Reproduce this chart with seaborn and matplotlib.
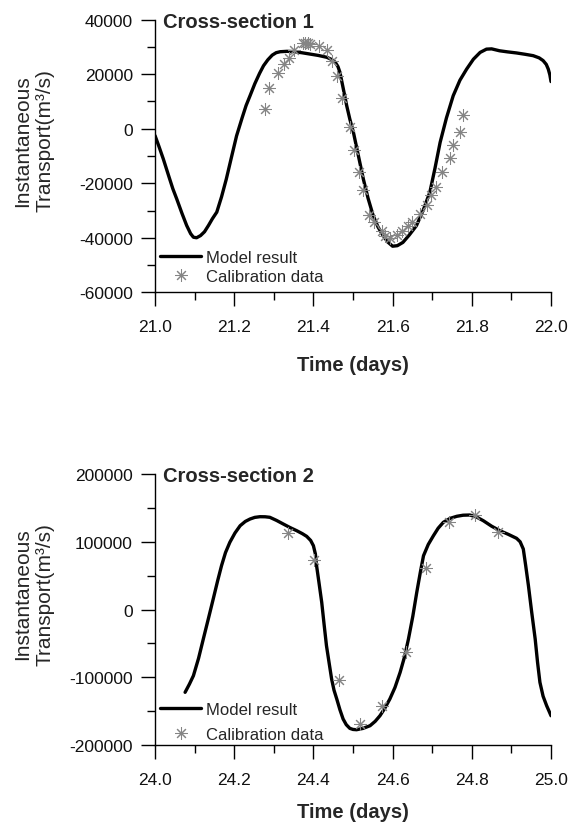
import numpy as np
import pandas as pd
import matplotlib
matplotlib.use("Agg")
import matplotlib.pyplot as plt
from matplotlib.ticker import MultipleLocator, FormatStrFormatter
import seaborn as sns

sns.set_style("ticks")
plt.rcParams['font.family'] = ['Liberation Sans', 'DejaVu Sans']
plt.rcParams['axes.unicode_minus'] = False

# ---- Cross-section 1 data ----
model1_t = [21.000, 21.010, 21.021, 21.035, 21.045, 21.055, 21.068, 21.080, 21.090, 21.097,
            21.105, 21.115, 21.125, 21.135, 21.145, 21.156, 21.168, 21.180, 21.193, 21.206,
            21.220, 21.230, 21.240, 21.252, 21.264, 21.274, 21.285, 21.296, 21.306, 21.316,
            21.333, 21.350, 21.370, 21.391, 21.412, 21.434, 21.446, 21.455, 21.462, 21.467,
            21.475, 21.484, 21.492, 21.501, 21.513, 21.526, 21.538, 21.551, 21.563, 21.576,
            21.588, 21.600, 21.612, 21.626, 21.642, 21.660, 21.677, 21.694, 21.707, 21.720,
            21.736, 21.753, 21.770, 21.787, 21.804, 21.821, 21.837, 21.850, 21.870, 21.890,
            21.913, 21.935, 21.955, 21.970, 21.980, 21.988, 21.993, 21.997, 22.000]
model1_v = [-2500, -6500, -11100, -17500, -22000, -25800, -31000, -35500, -38500, -39800,
            -40000, -39200, -37800, -35500, -33000, -30600, -25000, -18500, -10500, -2600,
            4000, 8500, 12100, 16500, 20300, 23100, 25300, 27000, 27900, 28250,
            28400, 28300, 27900, 27400, 26900, 26200, 25400, 24400, 22800, 20700,
            15000, 8500, 3500, -1300, -9500, -18400, -25500, -31900, -36000, -39200,
            -41600, -43100, -42900, -41700, -39000, -35600, -30000, -23300, -14500, -5000,
            4000, 12100, 17800, 21900, 25500, 28000, 29200, 29300, 28600, 28200,
            27800, 27300, 26800, 26000, 25000, 23600, 21900, 19800, 17300]
calib1_t = [21.278, 21.289, 21.310, 21.326, 21.339, 21.351, 21.373, 21.380, 21.386, 21.392,
            21.415, 21.434, 21.446, 21.460, 21.471, 21.492, 21.503, 21.514, 21.525, 21.541,
            21.553, 21.574, 21.580, 21.594, 21.610, 21.624, 21.640, 21.650, 21.668, 21.686,
            21.698, 21.710, 21.725, 21.745, 21.753, 21.770, 21.778]
calib1_v = [7200, 14800, 20400, 23700, 25800, 29000, 31400, 31400, 31400, 31000,
            30400, 29000, 25000, 19400, 11200, 500, -7700, -16000, -22400, -31600,
            -34300, -37600, -39200, -40200, -39000, -37600, -35600, -34100, -31300, -28000,
            -24300, -21500, -16000, -10800, -6000, -1300, 5000]

# ---- Cross-section 2 data ----
model2_t = [24.076, 24.087, 24.097, 24.110, 24.122, 24.135, 24.147, 24.158, 24.168, 24.178,
            24.189, 24.202, 24.215, 24.228, 24.240, 24.252, 24.265, 24.278, 24.290, 24.307,
            24.324, 24.341, 24.358, 24.372, 24.383, 24.393, 24.400, 24.405, 24.408, 24.414,
            24.421, 24.427, 24.433, 24.440, 24.446, 24.452, 24.459, 24.467, 24.475, 24.483,
            24.492, 24.500, 24.509, 24.525, 24.543, 24.556, 24.568, 24.580, 24.593, 24.606,
            24.619, 24.630, 24.640, 24.651, 24.661, 24.670, 24.678, 24.690, 24.703, 24.715,
            24.728, 24.745, 24.762, 24.778, 24.795, 24.812, 24.829, 24.850, 24.871, 24.892,
            24.913, 24.922, 24.930, 24.936, 24.943, 24.951, 24.960, 24.966, 24.972, 24.980,
            24.989, 24.995, 25.000]
model2_v = [-122200, -110000, -97700, -72000, -43500, -13000, 15500, 42000, 64700, 84000,
            99200, 113000, 123700, 130000, 133600, 136000, 137000, 136900, 136100, 131500,
            126200, 121000, 116300, 112000, 108000, 102000, 94200, 82000, 64700, 40000,
            10600, -22000, -53400, -80000, -102600, -119000, -132100, -148000, -161600, -170000,
            -175400, -177000, -177400, -175500, -171500, -165000, -156800, -146000, -132100, -115000,
            -92700, -70000, -43500, -10000, 25400, 55000, 79400, 96000, 108900, 120000,
            128700, 134500, 137600, 139200, 139500, 136500, 131100, 123000, 116300, 111000,
            105100, 100000, 89300, 65000, 35100, -3000, -43500, -78000, -107500, -128000,
            -142000, -150000, -156800]
calib2_t = [24.337, 24.401, 24.464, 24.517, 24.572, 24.635, 24.684, 24.742, 24.808, 24.867]
calib2_v = [112900, 73500, -103600, -169000, -142000, -63200, 60800, 129600, 139500, 113900]

x_ranges = [(21.0, 22.0), (24.0, 25.0)]
y_ranges = [(-60000, 40000, 20000, 10000), (-200000, 200000, 100000, 50000)]
titles = ["Cross-section 1", "Cross-section 2"]

fig = plt.figure(figsize=(5.69, 8.28), dpi=100)
ax1 = fig.add_axes([0.2724, 0.6458, 0.6960, 0.3292])
ax2 = fig.add_axes([0.2724, 0.0990, 0.6960, 0.3273])

datasets = [
    (ax1, model1_t, model1_v, calib1_t, calib1_v),
    (ax2, model2_t, model2_v, calib2_t, calib2_v),
]

ast = (8, 2, 0)
for i, (ax, mt, mv, ct, cv) in enumerate(datasets):
    dfm = pd.DataFrame({"t": mt, "v": mv})
    dfc = pd.DataFrame({"t": ct, "v": cv})
    sns.lineplot(data=dfm, x="t", y="v", ax=ax, color="black", lw=2.4,
                 label="Model result", sort=False)
    ax.plot(dfc["t"], dfc["v"], linestyle="none", marker=ast, markersize=9,
            markeredgecolor="#858585", markeredgewidth=0.75, label="Calibration data")
    x0, x1 = x_ranges[i]
    y0, y1, ymaj, ymin = y_ranges[i]
    ax.set_xlim(x0, x1)
    ax.set_ylim(y0, y1)
    ax.xaxis.set_major_locator(MultipleLocator(0.2))
    ax.xaxis.set_minor_locator(MultipleLocator(0.1))
    ax.xaxis.set_major_formatter(FormatStrFormatter('%.1f'))
    ax.yaxis.set_major_locator(MultipleLocator(ymaj))
    ax.yaxis.set_minor_locator(MultipleLocator(ymin))
    ax.yaxis.set_major_formatter(FormatStrFormatter('%d'))
    for s in ["top", "right"]:
        ax.spines[s].set_visible(False)
    for s in ["left", "bottom"]:
        ax.spines[s].set_linewidth(1.0)
        ax.spines[s].set_color("black")
    ax.tick_params(which="major", length=10, width=1.0, color="black",
                   labelsize=12.5, labelcolor="#111111")
    ax.tick_params(axis="x", which="major", pad=9.5)
    ax.tick_params(axis="y", which="major", pad=6)
    ax.tick_params(which="minor", length=5.5, width=1.0, color="black")
    ax.set_xlabel("Time (days)", fontsize=14.5, fontweight="bold",
                  labelpad=15 if i == 0 else 11)
    ax.set_ylabel("Instantaneous\nTransport(m³/s)", fontsize=15)
    ax.yaxis.set_label_coords(-0.255, 0.56)
    ax.text(0.02, 0.974, titles[i], transform=ax.transAxes, fontsize=14.5,
            fontweight="bold", va="baseline", ha="left")
    ax.legend(loc="lower left", bbox_to_anchor=(0.012, 0.03 if i == 0 else 0.01),
              frameon=False, fontsize=12, handlelength=2.5, handletextpad=0.3,
              borderpad=0, borderaxespad=0, labelspacing=0.25 if i == 0 else 0.6)

fig.savefig("out.png", dpi=100)
